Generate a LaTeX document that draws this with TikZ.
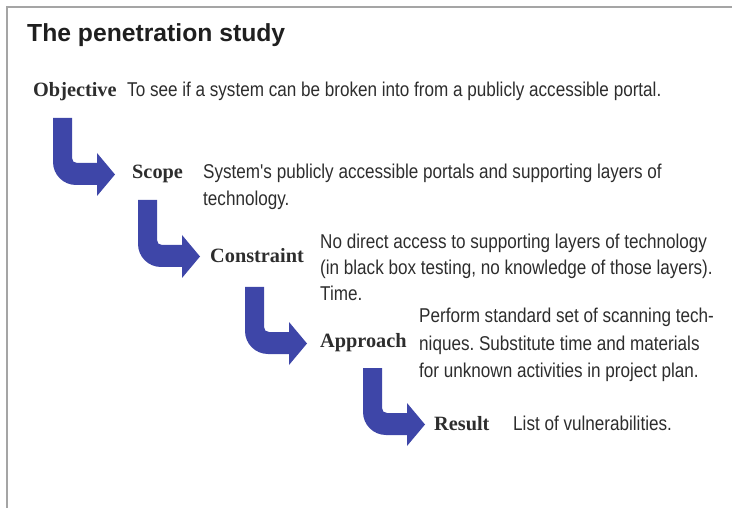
\documentclass[tikz,border=0pt]{standalone}
\usepackage{fontspec}
\setmainfont{Liberation Serif}
\newfontfamily\descfont[FakeStretch=0.855]{Liberation Sans}
\newfontfamily\titlefont{Liberation Sans}
\definecolor{arrowblue}{RGB}{62,70,168}
\definecolor{framegray}{RGB}{165,165,165}
\definecolor{txt}{RGB}{45,45,45}
\frenchspacing
\begin{document}
\begin{tikzpicture}[x=1pt,y=-1pt,
  titletext/.style={anchor=base west, inner sep=0, font=\titlefont\fontsize{24.7}{28}\selectfont\bfseries, text=black!88},
  steplabel/.style={anchor=base west, inner sep=0, font=\fontsize{20.3}{24}\selectfont\bfseries, text=txt},
  desc/.style={anchor=base west, inner sep=0, font=\descfont\fontsize{20}{27}\selectfont, text=txt},
  bent/.pic={\fill[arrowblue] (0,0) -- (19,0) -- (19,40) .. controls (19,43) and (21,45) .. (24,45)
     -- (44,45) -- (44,35) -- (62,56.5) -- (44,78) -- (44,67) -- (23,67)
     .. controls (10.3,67) and (0,56.7) .. (0,44) -- cycle;}
]
\useasboundingbox (0,0) rectangle (732,508);
\draw[framegray, line width=2] (7,512) -- (7,7) -- (736,7);

\node[titletext] (title) at (27,42) {The penetration study};

\node[steplabel] (obj) at (33,97) {Objective};
\node[desc] (objd) at (127,97) {To see if a system can be broken into from a publicly accessible portal.};

\pic (arr1) at (53,118) {bent};
\node[steplabel] (scope) at (132,179) {Scope};
\node[desc] (scoped1) at (203,179) {System's publicly accessible portals and supporting layers of};
\node[desc] (scoped2) at (203,206) {technology.};

\pic (arr2) at (138,200) {bent};
\node[steplabel] (cons) at (210,262) {Constraint};
\node[desc] (consd1) at (320,249) {No direct access to supporting layers of technology};
\node[desc] (consd2) at (320,275) {(in black box testing, no knowledge of those layers).};
\node[desc] (consd3) at (320,301) {Time.};

\pic (arr3) at (245,287) {bent};
\node[steplabel] (app) at (320,347) {Approach};
\node[desc] (appd1) at (419,323) {Perform standard set of scanning tech-};
\node[desc] (appd2) at (419,350) {niques. Substitute time and materials};
\node[desc] (appd3) at (419,377) {for unknown activities in project plan.};

\pic (arr4) at (363,368) {bent};
\node[steplabel] (res) at (434,430) {Result};
\node[desc] (resd) at (513,430) {List of vulnerabilities.};
\end{tikzpicture}
\end{document}
